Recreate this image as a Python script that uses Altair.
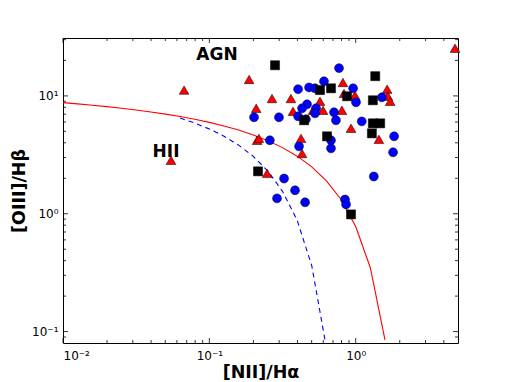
import altair as alt
import pandas as pd

# ---- data ----
tri_x = [0.0672, 0.187, 0.268, 0.209, 0.212, 0.218, 0.0547, 0.248, 0.818, 1.64,
         0.832, 0.989, 1.66, 1.72, 0.361, 0.570, 0.373, 0.511, 0.598, 0.805,
         0.929, 1.44, 0.423, 0.430, 4.77]
tri_y = [11.2, 13.8, 9.5, 7.85, 4.2, 4.36, 2.84, 2.20, 13.0, 11.4,
         10.5, 10.1, 9.93, 9.0, 9.5, 9.0, 7.40, 7.55, 7.55, 7.55,
         5.31, 4.28, 4.36, 3.25, 25.4]

circ_x = [0.202, 0.299, 0.259, 0.290, 0.769, 0.607, 0.404, 0.480, 0.527, 0.960,
          1.005, 1.51, 0.465, 0.430, 0.536, 0.527, 0.711, 0.404, 0.457, 0.733,
          1.10, 1.83, 1.80, 0.678, 0.678, 0.410, 1.33, 0.324, 0.385, 0.451,
          0.845, 0.859]
circ_y = [6.58, 6.58, 4.20, 1.35, 17.2, 13.3, 11.4, 11.8, 11.6, 11.6,
          8.83, 9.73, 8.48, 7.85, 7.85, 7.11, 7.26, 6.71, 6.33, 6.21,
          6.08, 4.54, 3.32, 4.20, 3.59, 3.73, 2.07, 1.99, 1.58, 1.25,
          1.32, 1.20]

sq_x = [0.281, 1.36, 0.570, 0.678, 0.873, 1.31, 0.444, 1.31, 1.47, 1.29, 0.637, 0.215, 0.929]
sq_y = [18.2, 14.7, 11.2, 11.6, 9.93, 9.18, 6.21, 5.85, 5.85, 4.81, 4.54, 2.29, 0.987]

# demarcation curves (sampled points)
kew_x = [0.01, 0.01259, 0.01585, 0.01995, 0.02512, 0.03162, 0.03981, 0.05012, 0.0631,
         0.07943, 0.1, 0.1259, 0.1585, 0.1995, 0.2512, 0.3162, 0.3981, 0.5012, 0.631,
         0.7943, 1.0, 1.259, 1.585]
kew_y = [8.77, 8.56, 8.34, 8.11, 7.86, 7.59, 7.31, 7.00, 6.68, 6.33, 5.96, 5.55, 5.13,
         4.66, 4.17, 3.64, 3.08, 2.50, 1.90, 1.32, 0.780, 0.348, 0.0852]
kau_x = [0.0631, 0.07943, 0.1, 0.1259, 0.1585, 0.1995, 0.2512, 0.3162, 0.3981, 0.5012, 0.631]
kau_y = [6.49, 5.88, 5.24, 4.55, 3.82, 3.07, 2.30, 1.55, 0.880, 0.361, 0.0724]

labels_txt = ["AGN", "HII"]
labels_x = [0.1128, 0.0506]
labels_y = [22.3, 3.32]

x_major = [0.01, 0.1, 1]
x_minor = [0.02, 0.03, 0.04, 0.05, 0.06, 0.07, 0.08, 0.09,
           0.2, 0.3, 0.4, 0.5, 0.6, 0.7, 0.8, 0.9, 2, 3, 4]
y_major = [0.1, 1, 10]
y_minor = [0.09, 0.2, 0.3, 0.4, 0.5, 0.6, 0.7, 0.8, 0.9,
           2, 3, 4, 5, 6, 7, 8, 9, 20, 30]

W, H = 395, 305
FONT = "DejaVu Sans"
xs = alt.Scale(type="log", domain=[0.01, 5], nice=False)
ys = alt.Scale(type="log", domain=[0.08, 31], nice=False)

tri = pd.DataFrame({"x": tri_x, "y": tri_y})
circ = pd.DataFrame({"x": circ_x, "y": circ_y})
sq = pd.DataFrame({"x": sq_x, "y": sq_y})
kew = pd.DataFrame({"x": kew_x, "y": kew_y, "o": range(len(kew_x))})
kau = pd.DataFrame({"x": kau_x, "y": kau_y, "o": range(len(kau_x))})
lab = pd.DataFrame({"t": labels_txt, "x": labels_x, "y": labels_y})

xaxis = alt.Axis(values=x_major, ticks=False, tickSize=0, domain=False, grid=False,
                 labelExpr="datum.value < 0.05 ? '10⁻²' : datum.value < 0.5 ? '10⁻¹' : '10⁰'",
                 labelFont=FONT, labelFontSize=12, labelColor="black", labelPadding=7,
                 title="[NII]/Hα", titleFont=FONT, titleFontSize=17.5, titleFontWeight="bold",
                 titleColor="black", titleBaseline="alphabetic", titleY=34)
yaxis = alt.Axis(values=y_major, ticks=False, tickSize=0, domain=False, grid=False,
                 labelExpr="datum.value < 0.5 ? '10⁻¹' : datum.value < 5 ? '10⁰' : '10¹'",
                 labelFont=FONT, labelFontSize=12, labelColor="black", labelPadding=5,
                 title="[OIII]/Hβ", titleFont=FONT, titleFontSize=17.5, titleFontWeight="bold",
                 titleColor="black", titleBaseline="alphabetic", titleX=-39, titleY=H / 2)

X = lambda f: alt.X(f, scale=xs, axis=xaxis)
Y = lambda f: alt.Y(f, scale=ys, axis=yaxis)

kew_line = alt.Chart(kew).mark_line(color="#ff0000", strokeWidth=1.1, clip=True).encode(
    x=X("x:Q"), y=Y("y:Q"), order="o:Q")
kau_line = alt.Chart(kau).mark_line(color="#0000ff", strokeWidth=1.1, strokeDash=[5, 4], clip=True).encode(
    x=X("x:Q"), y=Y("y:Q"), order="o:Q")

def pts(df, shape, color, size):
    return alt.Chart(df).mark_point(shape=shape, filled=True, fill=color, stroke="black",
                                    strokeWidth=0.5, size=size, opacity=1).encode(
        x=X("x:Q"), y=Y("y:Q"))

tri_l = pts(tri, "triangle-up", "#ff0000", 95)
circ_l = pts(circ, "circle", "#0000ff", 80)
sq_l = pts(sq, "square", "#000000", 82)

text_l = alt.Chart(lab).mark_text(font=FONT, fontSize=17, fontWeight="bold", color="black").encode(
    x=X("x:Q"), y=Y("y:Q"), text="t:N")

def xticks(vals, length):
    df = pd.DataFrame({"v": vals})
    bot = alt.Chart(df).mark_rule(color="black", strokeWidth=0.8).encode(
        x=X("v:Q"), y=alt.value(H), y2=alt.value(H - length))
    top = alt.Chart(df).mark_rule(color="black", strokeWidth=0.8).encode(
        x=X("v:Q"), y=alt.value(0), y2=alt.value(length))
    return [bot, top]

def yticks(vals, length):
    df = pd.DataFrame({"v": vals})
    left = alt.Chart(df).mark_rule(color="black", strokeWidth=0.8).encode(
        y=Y("v:Q"), x=alt.value(0), x2=alt.value(length))
    right = alt.Chart(df).mark_rule(color="black", strokeWidth=0.8).encode(
        y=Y("v:Q"), x=alt.value(W), x2=alt.value(W - length))
    return [left, right]

layers = [kew_line, kau_line] + xticks(x_major, 5) + xticks(x_minor, 3) + \
         yticks(y_major, 5) + yticks(y_minor, 3) + [tri_l, circ_l, sq_l, text_l]

chart = alt.layer(*layers).properties(
    width=W, height=H,
    autosize=alt.AutoSizeParams(type="none"),
    padding={"left": 55, "top": 30, "right": 43, "bottom": 39},
).configure_view(stroke="black", strokeWidth=1)

chart.save("out.html", embed_options={"renderer": "svg", "actions": False})
